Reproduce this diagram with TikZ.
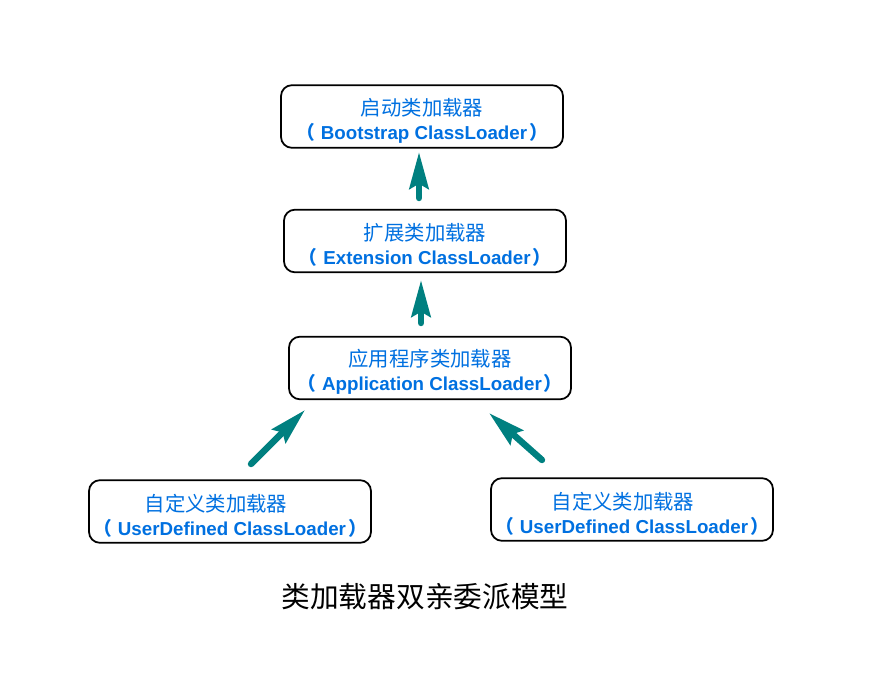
\documentclass[tikz,border=0pt]{standalone}
\usepackage{fontspec}
\setmainfont{Liberation Sans}
\newfontfamily\cjk{Noto Sans CJK SC}
\usetikzlibrary{arrows.meta}
\definecolor{loaderblue}{RGB}{0,112,224}
\definecolor{arrowteal}{RGB}{0,128,128}
\tikzset{
  loaderbox/.style={draw=black, line width=1.5pt, rounded corners=0.33cm,
    minimum width=8.46cm, minimum height=1.88cm, align=center,
    text=loaderblue, font=\fontsize{16}{20.5}\selectfont},
  uparrow/.style={draw=arrowteal, line width=5.5pt, line cap=round,
    -{Stealth[length=1.1cm, width=0.57cm, inset=0.15cm]}}
}
% #1 chinese name, #2 english name, #3 trailing space after the chinese line
\newcommand{\loadername}[3][0pt]{{\cjk\fontsize{17.4}{20.5}\selectfont\rule{0pt}{22pt}#2\hspace*{#1}}\\{\cjk\bfseries （}\hspace{0.18cm}\textbf{#3}\hspace{0.06cm}{\cjk\bfseries ）}}
\begin{document}
\begin{tikzpicture}[x=0.03cm, y=-0.03cm]
  \useasboundingbox (0,0) rectangle (869,684);

  % Loader boxes
  \node[loaderbox] (boot) at (422,116.5) {\loadername{启动类加载器}{Bootstrap ClassLoader}};
  \node[loaderbox] (ext) at (425,241) {\loadername{扩展类加载器}{Extension ClassLoader}};
  \node[loaderbox] (app) at (430,368) {\loadername{应用程序类加载器}{Application ClassLoader}};
  \node[loaderbox] (userA) at (230,511.5) {\loadername[0.84cm]{自定义类加载器}{UserDefined ClassLoader}};
  \node[loaderbox] (userB) at (632,509.5) {\loadername[0.54cm]{自定义类加载器}{UserDefined ClassLoader}};

  % Arrow ends
  \coordinate (extTail) at (419,198);
  \coordinate (bootTip) at (419,152);
  \coordinate (appTail) at (421,323);
  \coordinate (extTip) at (421,280);
  \coordinate (userATail) at (251,464);
  \coordinate (appTipA) at (305,410);
  \coordinate (userBTail) at (542,460);
  \coordinate (appTipB) at (489,413);

  % Delegation arrows
  \draw[uparrow] (extTail) -- (bootTip);
  \draw[uparrow] (appTail) -- (extTip);
  \draw[uparrow] (userATail) -- (appTipA);
  \draw[uparrow] (userBTail) -- (appTipB);

  % Caption
  \node (caption) at (425,597) {\cjk\fontsize{24.5}{28}\selectfont 类加载器双亲委派模型};
\end{tikzpicture}
\end{document}
